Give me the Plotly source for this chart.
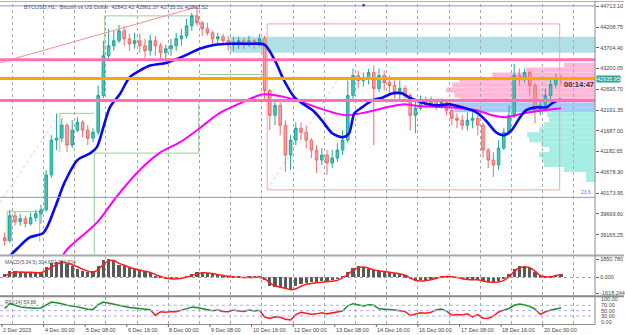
import plotly.graph_objects as go
import pandas as pd

# ---------------- data ----------------
candle_start = "2023-12-02 18:00"   # centre of first 4h candle
open_first = 39090
close = [39020, 39623, 39478, 39551, 39430, 39575, 39672, 39769, 40614, 41460,
         41508, 41822, 41339, 41701, 41894, 41701, 41508, 41653, 42546, 43512,
         43754, 43875, 44116, 43922, 43802, 43875, 43754, 43633, 43875, 43754,
         43585, 43682, 43754, 43922, 43996, 44237, 44479, 44310, 44165, 44068,
         43922, 43971, 43875, 43778, 43826, 43875, 43778, 43875, 43826, 43922,
         42667, 42063, 42305, 41822, 41097, 41460, 41749, 41653, 41460, 41218,
         40976, 41097, 40904, 41024, 41218, 41460, 42546, 43029, 42909, 42957,
         43102, 42715, 43029, 42860, 42788, 42618, 42715, 42546, 42063, 42233,
         42426, 42329, 42426, 42305, 42377, 42184, 41991, 41943, 41822, 41943,
         41991, 41822, 41218, 40976, 40856, 41266, 41653, 42063, 43029, 42957,
         43102, 42788, 42184, 42305, 42546, 42812, 42957, 42935]
high = [39213, 39769, 39720, 39672, 39623, 39696, 39769, 39889, 40735, 41580,
        42111, 41991, 41870, 41943, 42015, 41943, 41822, 41749, 42788, 43875,
        44165, 44116, 44261, 44237, 44044, 44068, 44044, 43922, 44020, 43996,
        43826, 43778, 43922, 44068, 44165, 44406, 44551, 44696, 44358, 44310,
        44116, 44068, 44044, 43996, 43971, 43971, 43947, 43996, 43922, 44044,
        43996, 42700, 42426, 42377, 41943, 41580, 41894, 41894, 41822, 41508,
        41339, 41266, 41218, 41218, 41387, 41701, 42909, 43198, 43150, 43102,
        43198, 43271, 43198, 43150, 43029, 42909, 42909, 42788, 42600, 42473,
        42546, 42522, 42522, 42473, 42473, 42426, 42233, 42111, 42063, 42136,
        42136, 42063, 41894, 41266, 41170, 41460, 41749, 42305, 43319, 43198,
        43198, 43150, 42860, 42426, 42715, 42957, 43078, 43054]
low = [38899, 38971, 39382, 39382, 39334, 39382, 39478, 39430, 39720, 40541,
       41218, 41411, 41170, 41266, 41653, 41532, 41339, 41411, 41580, 42480,
       43440, 43633, 43826, 43754, 43633, 43682, 43585, 43464, 43512, 43512,
       43440, 43343, 43512, 43633, 43754, 43922, 44116, 44237, 43996, 43996,
       43754, 43754, 43754, 43633, 43633, 43682, 43682, 43730, 43682, 43730,
       42426, 41701, 41822, 41580, 40686, 40735, 41339, 41460, 41266, 41024,
       40662, 40856, 40614, 40783, 40928, 41097, 41400, 42426, 42715, 42763,
       42812, 41339, 42618, 42667, 42546, 42473, 42426, 42377, 41701, 41628,
       42184, 42233, 42281, 42184, 42233, 42063, 41822, 41749, 41701, 41701,
       41749, 41580, 41024, 40783, 40566, 40735, 41218, 41580, 42000, 42788,
       42860, 42546, 41870, 42063, 42233, 42426, 42715, 42812]

macd_hist = [300, 600, 650, 550, 500, 480, 470, 520, 1000, 1400,
             1580, 1600, 1350, 1100, 870, 650, 480, 650, 1150, 1700,
             1850, 1600, 1250, 1100, 950, 800, 700, 580, 460, 100,
             -80, -130, -130, -80, -40, 100, 300, 480, 520, 450,
             370, 260, 150, 80, 30, 10, 0, 10, 20, 20,
             -300, -900, -1000, -1060, -1200, -1250, -950, -700, -600, -550,
             -500, -450, -420, -350, -250, 50, 550, 900, 1100, 1050,
             850, 700, 650, 600, 500, 420, 320, 200, -250, -370,
             -340, -300, -200, -50, 100, 120, 40, 0, -200, -230,
             -230, -240, -400, -500, -530, -420, -200, 300, 850, 1130,
             1100, 950, 500, 80, 40, 100, 250, 305]
macd_signal = [150, 400, 550, 560, 550, 530, 510, 490, 700, 1050,
               1350, 1550, 1480, 1300, 1100, 850, 650, 550, 800, 1350,
               1700, 1750, 1450, 1250, 1050, 880, 760, 640, 520, 300,
               100, -60, -130, -140, -80, 30, 200, 380, 470, 470,
               400, 300, 200, 120, 60, 25, 10, 5, 10, 10,
               -100, -550, -850, -1000, -1100, -1250, -1150, -900, -700, -620,
               -550, -490, -450, -380, -300, -50, 300, 750, 1000, 1080,
               950, 780, 680, 620, 540, 450, 360, 240, -50, -280,
               -360, -320, -230, -100, 50, 110, 60, 10, -120, -200,
               -230, -240, -350, -460, -500, -470, -300, 100, 600, 1000,
               1080, 1000, 650, 200, 50, 70, 200, 285]
rsi = [58, 76, 70, 64, 62, 60, 59, 60, 72, 82,
       79, 76, 70, 68, 64, 60, 55, 54, 72, 82,
       78, 73, 70, 64, 62, 60, 58, 56, 53, 32,
       46, 44, 47, 46, 52, 58, 63, 62, 58, 54,
       50, 52, 47, 46, 52, 49, 47, 52, 49, 51,
       26, 21, 27, 25, 18, 15, 35, 44, 40, 37,
       38, 42, 38, 42, 45, 49, 68, 76, 72, 67,
       72, 70, 57, 56, 55, 52, 50, 47, 32, 38,
       42, 40, 44, 53, 56, 48, 33, 36, 34, 38,
       27, 35, 22, 21, 30, 45, 52, 58, 70, 75,
       71, 66, 56, 36, 46, 52, 57, 59.88]

ma_blue_t = ["2023-12-02 18:00", "2023-12-03 03:00", "2023-12-03 13:00", "2023-12-04 00:00",
             "2023-12-04 09:00", "2023-12-04 16:00", "2023-12-05 02:00", "2023-12-05 12:00",
             "2023-12-05 17:00", "2023-12-05 22:00", "2023-12-06 03:00", "2023-12-06 11:00",
             "2023-12-06 18:00", "2023-12-07 02:00", "2023-12-07 10:00", "2023-12-07 23:00",
             "2023-12-08 09:00", "2023-12-08 16:00", "2023-12-09 00:00", "2023-12-09 12:00",
             "2023-12-09 23:00", "2023-12-10 14:00", "2023-12-11 02:00", "2023-12-11 10:00",
             "2023-12-11 17:00", "2023-12-12 01:00", "2023-12-12 07:00", "2023-12-12 15:00",
             "2023-12-12 22:00", "2023-12-13 06:00", "2023-12-13 14:00", "2023-12-13 19:00",
             "2023-12-13 23:00", "2023-12-14 05:00", "2023-12-14 13:00", "2023-12-14 21:00",
             "2023-12-15 04:00", "2023-12-15 12:00", "2023-12-15 17:00", "2023-12-16 03:00",
             "2023-12-16 14:00", "2023-12-17 00:00", "2023-12-17 10:00", "2023-12-17 21:00",
             "2023-12-18 04:00", "2023-12-18 12:00", "2023-12-18 18:00", "2023-12-19 00:00",
             "2023-12-19 06:00", "2023-12-19 11:00", "2023-12-19 19:00", "2023-12-20 03:00",
             "2023-12-20 07:00", "2023-12-20 14:00"]
ma_blue_v = [38512, 38803, 39092, 39213, 39841, 40421, 40976, 41145, 41291, 41773,
             42257, 42594, 42981, 43150, 43271, 43343, 43464, 43561, 43682, 43778,
             43802, 43802, 43778, 43392, 42909, 42498, 42353, 42184, 41943, 41628,
             41532, 41628, 42111, 42257, 42426, 42498, 42594, 42594, 42498, 42377,
             42305, 42329, 42257, 42136, 41943, 41653, 41580, 41701, 41991, 42184,
             42257, 42257, 42353, 42450]
ma_mag_t = ["2023-12-04 12:00", "2023-12-04 18:00", "2023-12-05 17:00", "2023-12-06 08:00",
            "2023-12-07 02:00", "2023-12-07 17:00", "2023-12-08 09:00", "2023-12-09 00:00",
            "2023-12-09 15:00", "2023-12-10 07:00", "2023-12-11 00:00", "2023-12-11 11:00",
            "2023-12-12 03:00", "2023-12-12 18:00", "2023-12-13 09:00", "2023-12-13 17:00",
            "2023-12-14 08:00", "2023-12-15 00:00", "2023-12-15 12:00", "2023-12-16 03:00",
            "2023-12-17 00:00", "2023-12-17 21:00", "2023-12-18 09:00", "2023-12-18 20:00",
            "2023-12-19 06:00", "2023-12-19 19:00", "2023-12-20 14:00"]
ma_mag_v = [38512, 38803, 39455, 40083, 40735, 41145, 41411, 41749, 42111, 42353,
            42570, 42546, 42426, 42257, 42111, 42063, 42136, 42257, 42329, 42281,
            42257, 42184, 42063, 42015, 42087, 42160, 42233]

profile_levels = [43283, 43162, 43042, 42921, 42800, 42680, 42559, 42438, 42317, 42196,
                  42075, 41955, 41834, 41713, 41592, 41471, 41351, 41230, 41109, 40988,
                  40867, 40747, 40626, 40505]
profile_volume = [31, 69, 103, 136, 143, 149, 141, 136, 146, 141,
                  48, 46, 51, 56, 68, 66, 54, 46, 56, 53, 51, 31, 9, 9]
profile_zone = ["up"] * 8 + ["poc"] * 2 + ["down"] * 14
profile_step = 120.8
profile_full = 596.0   # volume that would span the whole time axis

price_ticks = [44713.10, 44208.75, 43704.40, 43200.05, 42695.70, 42191.35,
               41687.00, 41182.65, 40678.30, 40173.95, 39669.60, 39165.25]
macd_ticks = [1850.780, 0.0, -1618.244]
rsi_ticks = ["100.00", "70.00", "50.00", "30.00", "0.00"]

time_labels = ["2 Dec 2023", "4 Dec 00:00", "5 Dec 08:00", "6 Dec 16:00", "8 Dec 00:00",
               "9 Dec 08:00", "10 Dec 16:00", "12 Dec 00:00", "13 Dec 08:00", "14 Dec 16:00",
               "16 Dec 00:00", "17 Dec 08:00", "18 Dec 16:00", "20 Dec 00:00"]
time_label_at = ["2023-12-02 16:00", "2023-12-04 00:00", "2023-12-05 08:00", "2023-12-06 16:00",
                 "2023-12-08 00:00", "2023-12-09 08:00", "2023-12-10 16:00", "2023-12-12 00:00",
                 "2023-12-13 08:00", "2023-12-14 16:00", "2023-12-16 00:00", "2023-12-17 08:00",
                 "2023-12-18 16:00", "2023-12-20 00:00"]

# drawn objects / levels
pink_levels = [43416, 42426]
orange_level = 42957
blue_levels = [44722, 40070]
zone_cyan = ("2023-12-09 23:00", 43585, 43971)
pink_box = ("2023-12-11 04:00", "2023-12-20 13:00", 40252, 44285)
trend_line = ("2023-12-02 14:28", 43343, "2023-12-08 21:48", 44696)
faint_lines = [("2023-12-02 14:28", 39938, "2023-12-04 12:30", 42111),
               ("2023-12-11 04:00", 40252, "2023-12-13 13:30", 43078)]
green_segments = [
    ("2023-12-02 20:00", 39720, "2023-12-03 21:00", 39720),
    ("2023-12-02 20:00", 39720, "2023-12-02 20:00", 38995),
    ("2023-12-03 21:00", 39720, "2023-12-03 21:00", 38995),
    ("2023-12-04 12:30", 42111, "2023-12-05 15:00", 42111),
    ("2023-12-04 12:30", 42111, "2023-12-04 12:30", 41170),
    ("2023-12-05 15:00", 41145, "2023-12-08 23:20", 41145),
    ("2023-12-05 15:00", 41145, "2023-12-05 15:00", 38600),
    ("2023-12-08 23:20", 42353, "2023-12-08 23:20", 41145),
    ("2023-12-05 23:00", 44479, "2023-12-08 22:00", 44479),
    ("2023-12-05 23:00", 44479, "2023-12-05 23:00", 43392),
    ("2023-12-09 00:00", 43054, "2023-12-11 02:00", 43054),
]
x_start, x_end = "2023-12-02 14:28", "2023-12-21 16:12"

# ---------------- figure ----------------
times = pd.date_range(candle_start, periods=len(close), freq="4h")
opens = [open_first] + close[:-1]
FONT = "Liberation Sans"
fig = go.Figure()

fig.add_trace(go.Candlestick(x=times, open=opens, high=high, low=low, close=close,
                             increasing=dict(line=dict(color="#22a79a", width=1), fillcolor="#4cc3b5"),
                             decreasing=dict(line=dict(color="#f06a6a", width=1), fillcolor="#f7a3a3"),
                             whiskerwidth=0, showlegend=False, xaxis="x", yaxis="y"))

fig.add_trace(go.Scatter(x=ma_mag_t, y=ma_mag_v, mode="lines", xaxis="x", yaxis="y",
                         line=dict(color="#ff00ff", width=2, shape="spline", smoothing=0.8),
                         showlegend=False))
fig.add_trace(go.Scatter(x=ma_blue_t, y=ma_blue_v, mode="lines", xaxis="x", yaxis="y",
                         line=dict(color="#0a0af0", width=2.6, shape="spline", smoothing=0.8),
                         showlegend=False))

# MACD
fig.add_trace(go.Bar(x=times, y=macd_hist, xaxis="x2", yaxis="y2",
                     width=2.4 * 3600 * 1000, marker=dict(color="#5a5a5a", line_width=0),
                     showlegend=False))
fig.add_trace(go.Scatter(x=times, y=macd_signal, mode="lines", xaxis="x2", yaxis="y2",
                         line=dict(color="#ff1c1c", width=1.5, shape="spline"), showlegend=False))

# RSI coloured by side of 50
segs = {"g": ([], []), "r": ([], [])}
prev = None
for i in range(len(rsi) - 1):
    c = "g" if (rsi[i] + rsi[i + 1]) / 2 >= 50 else "r"
    xs, ys = segs[c]
    if prev != c:
        xs.append(None); ys.append(None)
        xs.append(times[i]); ys.append(rsi[i])
    xs.append(times[i + 1]); ys.append(rsi[i + 1])
    prev = c
for c, col in (("g", "#1a8f1a"), ("r", "#ff1a1a")):
    fig.add_trace(go.Scatter(x=segs[c][0], y=segs[c][1], mode="lines", xaxis="x3", yaxis="y3",
                             line=dict(color=col, width=1.5), connectgaps=False, showlegend=False))

# ---------------- shapes ----------------
shapes = []
zone_col = {"up": "#ffb8d8", "poc": "#a3cdf6", "down": "#a6eee4"}
for lv, vol, z in zip(profile_levels, profile_volume, profile_zone):
    shapes.append(dict(type="rect", xref="x domain", yref="y", x0=1 - vol / profile_full, x1=1,
                       y0=lv - profile_step / 2, y1=lv + profile_step / 2,
                       fillcolor=zone_col[z], line_width=0, layer="below"))
shapes.append(dict(type="rect", xref="x", yref="y", x0=zone_cyan[0], x1=x_end,
                   y0=zone_cyan[1], y1=zone_cyan[2], fillcolor="#b0dfe5", line_width=0, layer="below"))
shapes.append(dict(type="rect", xref="x", yref="y", x0=pink_box[0], x1=pink_box[1],
                   y0=pink_box[2], y1=pink_box[3], line=dict(color="#f4a2a2", width=1), layer="below"))
for (a, b, c, d) in green_segments:
    shapes.append(dict(type="line", xref="x", yref="y", x0=a, y0=b, x1=c, y1=d,
                       line=dict(color="#9cc99c", width=1), layer="below"))
shapes.append(dict(type="line", xref="x", yref="y", x0=trend_line[0], y0=trend_line[1],
                   x1=trend_line[2], y1=trend_line[3], line=dict(color="#f29090", width=1)))
for (a, b, c, d) in faint_lines:
    shapes.append(dict(type="line", xref="x", yref="y", x0=a, y0=b, x1=c, y1=d,
                       line=dict(color="#f7c4c4", width=1, dash="dot"), layer="below"))
for lv in blue_levels:
    shapes.append(dict(type="line", xref="x domain", yref="y", x0=0, x1=1, y0=lv, y1=lv,
                       line=dict(color="#8c8cf5", width=1)))
for lv in pink_levels:
    shapes.append(dict(type="line", xref="x domain", yref="y", x0=0, x1=1, y0=lv, y1=lv,
                       line=dict(color="#ff6fb7", width=3)))
shapes.append(dict(type="line", xref="x domain", yref="y", x0=0, x1=1, y0=orange_level,
                   y1=orange_level, line=dict(color="#ffa500", width=3)))
shapes.append(dict(type="line", xref="x2 domain", yref="y2", x0=0, x1=1, y0=0, y1=0,
                   line=dict(color="#a0a0a0", width=1, dash="dot")))
for lv in (70, 50, 30):
    shapes.append(dict(type="line", xref="x3 domain", yref="y3", x0=0, x1=1, y0=lv, y1=lv,
                       line=dict(color="#aab0ee", width=1, dash="dot")))

XR = 596 / 625
def py(p):
    return 1 - p / 335
for yy, col in ((256, "#a8a8a8"), (297, "#8a8a8a")):
    shapes.append(dict(type="line", xref="paper", yref="paper", x0=0, x1=1, y0=py(yy), y1=py(yy),
                       line=dict(color=col, width=2)))
shapes.append(dict(type="line", xref="paper", yref="paper", x0=0, x1=1, y0=py(0.5), y1=py(0.5),
                   line=dict(color="#b0b0b0", width=1)))
shapes.append(dict(type="line", xref="paper", yref="paper", x0=XR, x1=XR, y0=py(325.5), y1=1,
                   line=dict(color="#8a8a8a", width=1)))
shapes.append(dict(type="line", xref="paper", yref="paper", x0=0, x1=XR, y0=py(325.5), y1=py(325.5),
                   line=dict(color="#8a8a8a", width=1)))
for t in time_label_at:
    shapes.append(dict(type="line", xref="x", yref="paper", x0=t, x1=t, y0=py(325.5), y1=py(328),
                       line=dict(color="#666", width=1)))

# ---------------- annotations ----------------
ann = []
small = dict(family=FONT, size=5.5, color="#444")
for lab, t in zip(time_labels, time_label_at):
    ann.append(dict(x=t, y=py(330.5), xref="x", yref="paper", text=lab, showarrow=False,
                    xanchor="left", yanchor="middle", font=small, xshift=-1))
for lab, yy in zip(rsi_ticks, (300, 306, 311.7, 317, 323)):
    ann.append(dict(x=XR, y=py(yy), xref="paper", yref="paper", text=lab, showarrow=False,
                    xanchor="left", yanchor="middle", font=small, xshift=4))
ann.append(dict(x=0.035, y=py(6), xref="paper", yref="paper",
                text="BTCUSD,H1:  Bitcoin vs US Dollar  42842.42 42861.37 42735.51 42803.52",
                showarrow=False, xanchor="left", yanchor="middle", font=dict(family=FONT, size=5.5, color="#555")))
ann.append(dict(x=0.005, y=py(263), xref="paper", yref="paper", text="MACD(5,34,5) 304.692 284.504",
                showarrow=False, xanchor="left", yanchor="middle", font=dict(family=FONT, size=5, color="#555")))
ann.append(dict(x=0.005, y=py(303), xref="paper", yref="paper", text="RSI(14) 59.88",
                showarrow=False, xanchor="left", yanchor="middle", font=dict(family=FONT, size=5, color="#555")))
ann.append(dict(x=563 / 625, y=py(84), xref="paper", yref="paper", text="<b>00:14:47</b>",
                showarrow=False, xanchor="left", yanchor="middle", font=dict(family=FONT, size=7.5, color="#333")))
ann.append(dict(x=XR, y=close[-1], xref="paper", yref="y", text="42935.95", showarrow=False,
                xanchor="left", yanchor="middle", bgcolor="#2aa595", borderpad=0,
                font=dict(family=FONT, size=5.5, color="white"), xshift=1))
ann.append(dict(x=XR, y=blue_levels[1], xref="paper", yref="y", text="23.6", showarrow=False,
                xanchor="right", yanchor="bottom", font=dict(family=FONT, size=5, color="#6a6af0"), xshift=-2))
ann.append(dict(x="2023-12-14 06:00", y=1, xref="x", yref="paper", text="▼", showarrow=False,
                yanchor="top", yshift=1, font=dict(size=5, color="#111")))

grid = dict(showgrid=True, gridcolor="#a8a8a8", griddash="dot", gridwidth=1,
            tick0="2023-12-03 00:00", dtick=86400000, showticklabels=False,
            zeroline=False, showline=False, ticks="")
axis_font = dict(family=FONT, size=5.5, color="#444")
fig.update_layout(
    width=625, height=335, margin=dict(l=0, r=0, t=0, b=0),
    paper_bgcolor="white", plot_bgcolor="white", showlegend=False, bargap=0,
    xaxis=dict(domain=[0, XR], anchor="y", range=[x_start, x_end], type="date",
               rangeslider=dict(visible=False), **grid),
    xaxis2=dict(domain=[0, XR], anchor="y2", matches="x", type="date", **grid),
    xaxis3=dict(domain=[0, XR], anchor="y3", matches="x", type="date", **grid),
    yaxis=dict(domain=[py(255), py(3)], range=[38681.6, 44768.7], side="right", anchor="x",
               tickvals=price_ticks, ticktext=[f"{v:.2f}" for v in price_ticks],
               ticks="outside", ticklen=3, tickcolor="#666", tickfont=axis_font,
               showgrid=False, zeroline=False, showline=False),
    yaxis2=dict(domain=[py(296), py(257)], range=[-1822, 2157], side="right", anchor="x2",
                tickvals=macd_ticks, ticktext=["1850.780", "0.000", "-1618.244"],
                ticks="outside", ticklen=3, tickcolor="#666", tickfont=axis_font,
                showgrid=False, zeroline=False, showline=False),
    yaxis3=dict(domain=[py(325), py(298)], range=[0, 100], side="right", anchor="x3",
                showticklabels=False, ticks="", showgrid=False, zeroline=False, showline=False),
    shapes=shapes, annotations=ann,
)
fig.write_html("out.html")
